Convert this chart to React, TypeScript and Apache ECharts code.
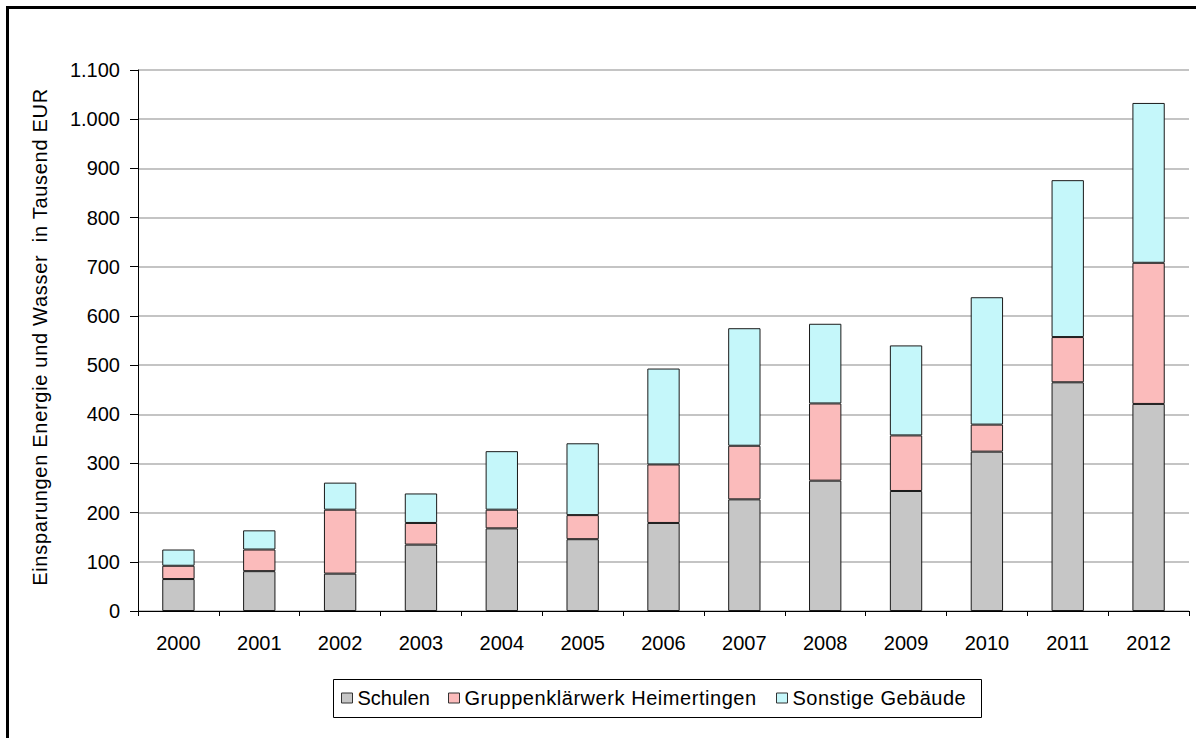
import React, { useEffect, useRef } from "react";
import * as echarts from "echarts";

const years = ["2000", "2001", "2002", "2003", "2004", "2005", "2006", "2007", "2008", "2009", "2010", "2011", "2012"];
const schulen = [65, 81, 76, 135, 168, 146, 179, 227, 265, 244, 324, 465, 421];
const gruppenklaerwerk = [27, 44, 130, 44, 38, 49, 119, 109, 157, 113, 55, 92, 287];
const sonstige = [33, 39, 55, 60, 119, 146, 195, 239, 162, 183, 259, 319, 325];
const seriesNames = ["Schulen", "Gruppenklärwerk Heimertingen", "Sonstige Gebäude"];
const yAxisTitle = "Einsparungen Energie und Wasser  in Tausend EUR";

const FONT = "'Liberation Sans', Arial, sans-serif";

export default function App() {
  const ref = useRef<HTMLDivElement>(null);
  useEffect(() => {
    if (!ref.current) return;
    const chart = echarts.init(ref.current, null, { renderer: "svg" });
    const mk = (name: string, data: number[], color: string) => ({
      name,
      type: "bar",
      stack: "total",
      data,
      barWidth: "40%",
      itemStyle: { color, borderColor: "#1a1a1a", borderWidth: 1 },
      emphasis: { disabled: true },
    });
    const legendAt = (name: string, left: number) => ({
      data: [name],
      left,
      top: 688,
      padding: 0,
      itemWidth: 11,
      itemHeight: 10,
      icon: "rect",
      selectedMode: false,
      textStyle: { color: "#000", fontSize: 20, fontFamily: FONT },
      itemStyle: { borderColor: "#333", borderWidth: 1 },
    });
    chart.setOption({
      animation: false,
      textStyle: { fontFamily: FONT },
      grid: { left: 138, right: 7, top: 70, bottom: 127 },
      xAxis: {
        type: "category",
        data: years,
        axisLine: { lineStyle: { color: "#000", width: 1 } },
        axisTick: { show: true, length: 5, lineStyle: { color: "#000" } },
        axisLabel: { color: "#000", fontSize: 20, fontFamily: FONT, margin: 22 },
      },
      yAxis: {
        type: "value",
        min: 0,
        max: 1100,
        interval: 100,
        axisLine: { show: true, lineStyle: { color: "#000", width: 1 } },
        axisTick: { show: true, length: 8, lineStyle: { color: "#000" } },
        axisLabel: {
          color: "#000",
          fontSize: 20,
          fontFamily: FONT,
          margin: 18,
          formatter: (v: number) => String(v).replace(/\B(?=(\d{3})+(?!\d))/g, "."),
        },
        splitLine: { show: true, lineStyle: { color: "#c4c4c4", width: 2 } },
      },
      legend: [
        legendAt(seriesNames[0], 341),
        legendAt(seriesNames[1], 448),
        legendAt(seriesNames[2], 776),
      ],
      graphic: [
        {
          type: "rect",
          shape: { x: 7.5, y: 7.5, width: 1400, height: 1000 },
          style: { fill: "none", stroke: "#000", lineWidth: 3 },
          silent: true,
        },
        {
          type: "rect",
          shape: { x: 333.5, y: 679.5, width: 648, height: 38 },
          style: { fill: "none", stroke: "#000", lineWidth: 1 },
          silent: true,
        },
        {
          type: "text",
          x: 40,
          y: 337,
          rotation: Math.PI / 2,
          style: {
            text: yAxisTitle,
            fill: "#000",
            fontSize: 20,
            fontFamily: FONT,
            align: "center",
            verticalAlign: "middle",
          },
        },
      ],
      series: [
        mk(seriesNames[0], schulen, "#c6c6c6"),
        mk(seriesNames[1], gruppenklaerwerk, "#fbbbbb"),
        mk(seriesNames[2], sonstige, "#c5f7fa"),
      ],
    });
    const spacing: Record<string, string> = {
      [yAxisTitle]: "0.7px",
      [seriesNames[1]]: "0.55px",
      [seriesNames[2]]: "0.5px",
    };
    const applySpacing = () => {
      if (!ref.current) return;
      ref.current.querySelectorAll("text").forEach((t) => {
        const s = spacing[(t.textContent || "").trim()] ?? spacing[t.textContent || ""];
        if (s) t.setAttribute("letter-spacing", s);
      });
    };
    applySpacing();
    const timer = setTimeout(applySpacing, 30);
    return () => {
      clearTimeout(timer);
      chart.dispose();
    };
  }, []);
  return (
    <div
      ref={ref}
      style={{ position: "fixed", left: 0, top: 0, width: 1196, height: 738, background: "#fff" }}
    />
  );
}
